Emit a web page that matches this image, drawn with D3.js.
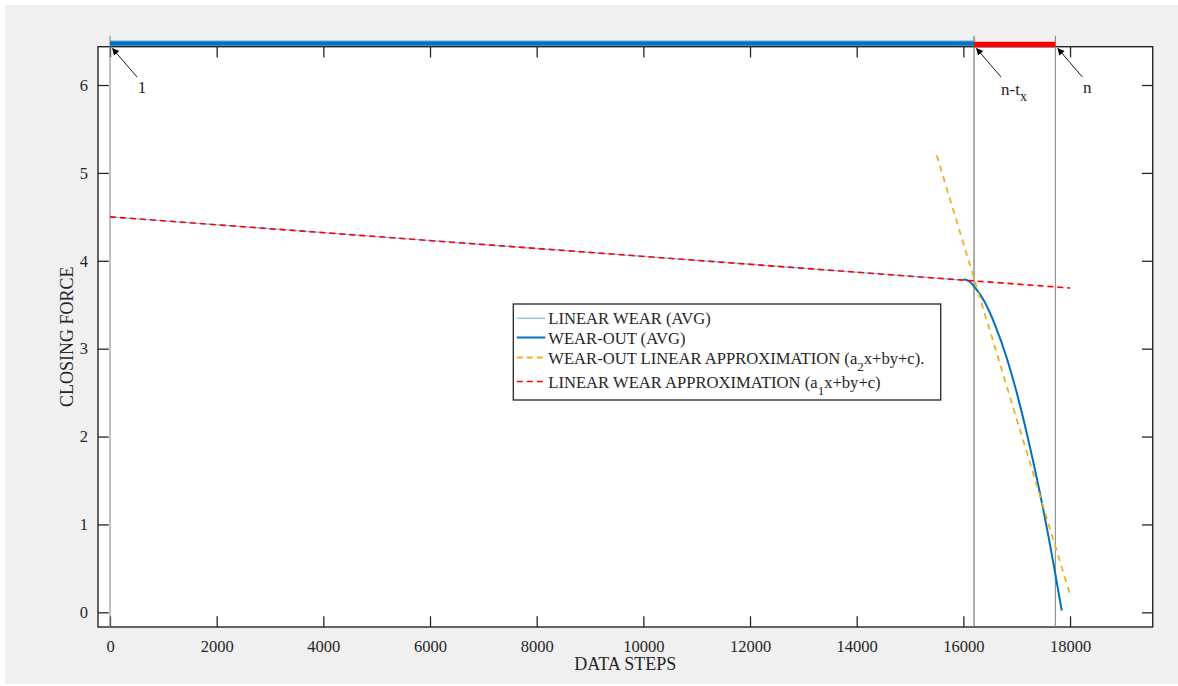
<!DOCTYPE html>
<html>
<head>
<meta charset="utf-8">
<script src="https://cdn.jsdelivr.net/npm/d3@7"></script>
<style>
  html, body { margin: 0; padding: 0; background: #ffffff; }
  svg { display: block; }
  text { font-family: "Liberation Serif", "Times New Roman", serif; fill: #262626; }
</style>
</head>
<body>
<svg id="chart" width="1178" height="686"></svg>
<script>
// ---------- data ----------
const xTicks = [0, 2000, 4000, 6000, 8000, 10000, 12000, 14000, 16000, 18000];
const yTicks = [0, 1, 2, 3, 4, 5, 6];
const xLimits = [-225, 19550];
const yLimits = [-0.167, 6.436];

const linearWearX = [0, 4000, 8000, 12000, 16000];
const linearWearY = [4.50, 4.32, 4.14, 3.96, 3.78];

const wearOutX = [16000, 16100, 16200, 16400, 16600, 16800, 17000, 17200, 17400, 17600, 17700, 17845];
const wearOutY = [3.79, 3.77, 3.71, 3.53, 3.26, 2.92, 2.50, 2.01, 1.46, 0.85, 0.52, 0.02];

const wearOutApproxX = [15500, 18000];
const wearOutApproxY = [5.20, 0.20];

const linearApproxX = [0, 18000];
const linearApproxY = [4.50, 3.69];

const markerX = [0, 16200, 17725];
const markerLabels = ["1", "n-t|x", "n"];
const markerTop = 6.56;

const phaseStart = [0, 16200];
const phaseEnd = [16200, 17725];
const phaseLevel = [6.475, 6.46];
const phaseColors = ["#0072BD", "#FF0000"];

const legendLabels = [
  [["LINEAR WEAR (AVG)", 0]],
  [["WEAR-OUT (AVG)", 0]],
  [["WEAR-OUT LINEAR APPROXIMATION (a", 0], ["2", 1], ["x+by+c).", 0]],
  [["LINEAR WEAR APPROXIMATION (a", 0], ["1", 1], ["x+by+c)", 0]]
];
const seriesColors = ["#92C2EA", "#0072BD", "#EDB120", "#FF0000"];
const seriesDash = [null, null, "6,5", "6,4"];
const seriesWidth = [1.4, 2, 1.8, 1.6];

// ---------- layout ----------
const svg = d3.select("#chart");
const plot = { left: 98, top: 46.7, right: 1152.7, bottom: 627 };

svg.append("rect").attr("x", 5).attr("y", 5).attr("width", 1173).attr("height", 679).attr("fill", "#f0f0f0");
svg.append("rect").attr("x", plot.left).attr("y", plot.top)
  .attr("width", plot.right - plot.left).attr("height", plot.bottom - plot.top).attr("fill", "#ffffff");

const x = d3.scaleLinear().domain(xLimits).range([plot.left, plot.right]);
const y = d3.scaleLinear().domain(yLimits).range([plot.bottom, plot.top]);

const tickLen = 10.7;
const axisColor = "#262626";

// axes with inward ticks
const gx = svg.append("g").attr("transform", `translate(0,${plot.bottom})`)
  .call(d3.axisBottom(x).tickValues(xTicks).tickFormat(d3.format("d")).tickSizeInner(-tickLen).tickSizeOuter(0).tickPadding(10));
const gxTop = svg.append("g").attr("transform", `translate(0,${plot.top})`)
  .call(d3.axisTop(x).tickValues(xTicks).tickFormat("").tickSizeInner(-tickLen).tickSizeOuter(0));
const gy = svg.append("g").attr("transform", `translate(${plot.left},0)`)
  .call(d3.axisLeft(y).tickValues(yTicks).tickFormat(d3.format("d")).tickSizeInner(-tickLen).tickSizeOuter(0).tickPadding(10));
const gyRight = svg.append("g").attr("transform", `translate(${plot.right},0)`)
  .call(d3.axisRight(y).tickValues(yTicks).tickFormat("").tickSizeInner(-tickLen).tickSizeOuter(0));

[gx, gxTop, gy, gyRight].forEach(g => {
  g.selectAll("path.domain").remove();
  g.selectAll("line").attr("stroke", axisColor).attr("stroke-width", 1.3);
  g.selectAll("text").attr("fill", axisColor).style("font-size", "16.5px")
    .style("font-family", '"Liberation Serif", serif');
});
gx.selectAll("text").attr("dy", "0.9em");

// box
svg.append("rect").attr("x", plot.left).attr("y", plot.top)
  .attr("width", plot.right - plot.left).attr("height", plot.bottom - plot.top)
  .attr("fill", "none").attr("stroke", axisColor).attr("stroke-width", 1.4);

// axis titles
svg.append("text").attr("x", (plot.left + plot.right) / 2).attr("y", 670)
  .attr("text-anchor", "middle").style("font-size", "18px").text("DATA STEPS");
svg.append("text").attr("transform", `translate(73,${(plot.top + plot.bottom) / 2}) rotate(-90)`)
  .attr("text-anchor", "middle").style("font-size", "18px").text("CLOSING FORCE");

// marker vertical lines
const markerColors = ["#8a8a8a", "#6a6a6a", "#8a8a8a"];
markerX.forEach((mx, i) => {
  svg.append("line").attr("x1", x(mx)).attr("x2", x(mx))
    .attr("y1", y(markerTop)).attr("y2", plot.bottom)
    .attr("stroke", markerColors[i]).attr("stroke-width", 1.1);
});

// series lines
const line = d3.line().x(d => x(d[0])).y(d => y(d[1]));
const smooth = d3.line().curve(d3.curveMonotoneX).x(d => x(d[0])).y(d => y(d[1]));
const zip = (a, b) => a.map((v, i) => [v, b[i]]);
const seriesData = [
  zip(linearWearX, linearWearY),
  zip(wearOutX, wearOutY),
  zip(wearOutApproxX, wearOutApproxY),
  zip(linearApproxX, linearApproxY)
];
[0, 1, 2, 3].forEach(i => {
  const p = svg.append("path").datum(seriesData[i])
    .attr("d", i === 1 ? smooth : line)
    .attr("fill", "none").attr("stroke", seriesColors[i]).attr("stroke-width", seriesWidth[i]);
  if (seriesDash[i]) p.attr("stroke-dasharray", seriesDash[i]);
});

// phase bars at top
phaseStart.forEach((s, i) => {
  svg.append("line").attr("x1", x(s)).attr("x2", x(phaseEnd[i]))
    .attr("y1", y(phaseLevel[i])).attr("y2", y(phaseLevel[i]))
    .attr("stroke", phaseColors[i]).attr("stroke-width", i === 0 ? 5 : 5.5);
});
svg.append("line").attr("x1", x(phaseStart[0])).attr("x2", x(phaseEnd[0]))
  .attr("y1", y(phaseLevel[0]) - 2.3).attr("y2", y(phaseLevel[0]) - 2.3)
  .attr("stroke", "#92C2EA").attr("stroke-width", 0.8);

// annotation arrows
const defs = svg.append("defs");
defs.append("marker").attr("id", "arrowhead").attr("viewBox", "0 0 10 10")
  .attr("refX", 9).attr("refY", 5).attr("markerWidth", 9).attr("markerHeight", 7)
  .attr("markerUnits", "userSpaceOnUse").attr("orient", "auto")
  .append("path").attr("d", "M0,0 L10,5 L0,10 Z").attr("fill", "#000");

markerX.forEach((mx, i) => {
  const px = x(mx);
  svg.append("line").attr("x1", px + 27).attr("y1", 77).attr("x2", px + 2.5).attr("y2", 48.5)
    .attr("stroke", "#000").attr("stroke-width", 0.9).attr("marker-end", "url(#arrowhead)");
  const parts = markerLabels[i].split("|");
  if (parts.length === 1) {
    svg.append("text").attr("x", px + 32).attr("y", 93).attr("text-anchor", "middle")
      .style("font-size", "17px").attr("fill", "#000").text(parts[0]);
  } else {
    const t = svg.append("text").attr("x", px + 27).attr("y", 95).style("font-size", "17px").attr("fill", "#000");
    t.append("tspan").text(parts[0]);
    t.append("tspan").attr("dy", 6).style("font-size", "14px").text(parts[1]);
  }
});

// legend
const lg = { left: 513.3, top: 304, right: 940.7, bottom: 400 };
svg.append("rect").attr("x", lg.left).attr("y", lg.top)
  .attr("width", lg.right - lg.left).attr("height", lg.bottom - lg.top)
  .attr("fill", "#ffffff").attr("stroke", axisColor).attr("stroke-width", 1.3);
const rowY = [318.3, 337.5, 357.5, 381.5];
legendLabels.forEach((segs, i) => {
  const ln = svg.append("line").attr("x1", lg.left + 3.5).attr("x2", lg.left + 32)
    .attr("y1", rowY[i]).attr("y2", rowY[i])
    .attr("stroke", seriesColors[i]).attr("stroke-width", seriesWidth[i]);
  if (seriesDash[i]) ln.attr("stroke-dasharray", "6,4");
  const t = svg.append("text").attr("x", lg.left + 35).attr("y", rowY[i] + 6)
    .style("font-size", "16.6px").attr("fill", "#000");
  let prevSub = 0;
  segs.forEach(([txt, sub]) => {
    const ts = t.append("tspan").text(txt);
    if (sub && !prevSub) ts.attr("dy", 7).style("font-size", "13px");
    else if (!sub && prevSub) ts.attr("dy", -7);
    prevSub = sub;
  });
});
</script>
</body>
</html>
